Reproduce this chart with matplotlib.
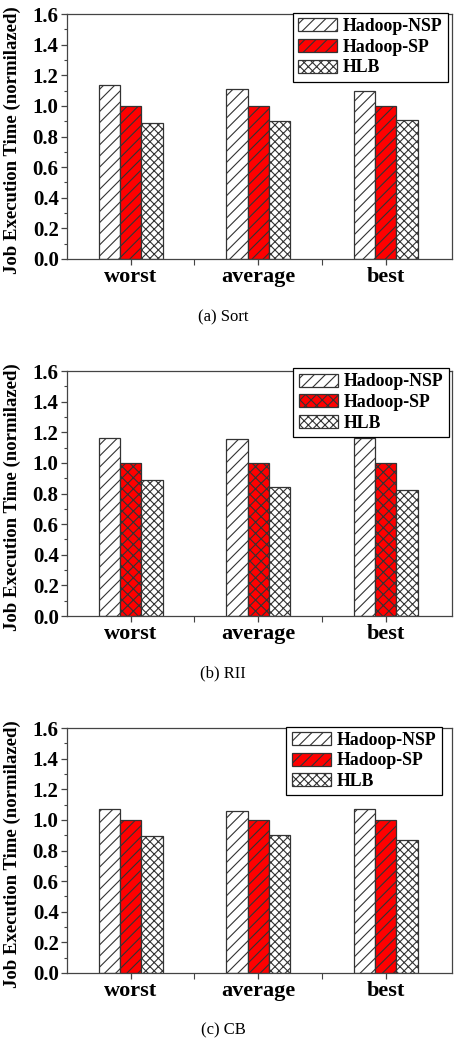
import numpy as np
import matplotlib
matplotlib.use("Agg")
import matplotlib.pyplot as plt
from matplotlib.ticker import MultipleLocator, FixedLocator

plt.rcParams["font.family"] = ["Liberation Serif", "DejaVu Serif"]
plt.rcParams["hatch.linewidth"] = 0.8

categories = ["worst", "average", "best"]
series = ["Hadoop-NSP", "Hadoop-SP", "HLB"]

sort_nsp = [1.135, 1.108, 1.095]
sort_sp = [1.0, 1.0, 1.0]
sort_hlb = [0.886, 0.899, 0.908]

rii_nsp = [1.161, 1.155, 1.160]
rii_sp = [1.0, 1.0, 1.0]
rii_hlb = [0.886, 0.841, 0.821]

cb_nsp = [1.074, 1.057, 1.070]
cb_sp = [1.0, 1.0, 1.0]
cb_hlb = [0.896, 0.904, 0.869]

captions = ["(a) Sort", "(b) RII", "(c) CB"]

panels = [
    (sort_nsp, sort_sp, sort_hlb, "///"),
    (rii_nsp, rii_sp, rii_hlb, "xxx"),
    (cb_nsp, cb_sp, cb_hlb, "///"),
]

W, H = 456, 1040
fig = plt.figure(figsize=(W / 100, H / 100), dpi=100)

# axes boxes in pixels: (left, top, right, bottom)
boxes = [(67, 14, 452, 259), (67, 371, 452, 616), (67, 728, 452, 973)]
legend_anchor = [(0.990, 1.005), (0.992, 1.012), (0.974, 1.006)]
caption_y = [317, 673, 1030]

x = np.arange(1, len(categories) + 1)
w = 0.167

for i, (nsp, sp, hlb, sp_hatch) in enumerate(panels):
    l, t, r, b = boxes[i]
    ax = fig.add_axes([l / W, 1 - b / H, (r - l) / W, (b - t) / H])
    ec = "#333333"
    ax.bar(x - w, nsp, w, color="white", edgecolor=ec, hatch="///",
           linewidth=0.9, label=series[0])
    ax.bar(x, sp, w, color="#ff0000", edgecolor=ec, hatch=sp_hatch,
           linewidth=0.9, label=series[1])
    ax.bar(x + w, hlb, w, color="white", edgecolor=ec, hatch="xxxx",
           linewidth=0.9, label=series[2])

    ax.set_xlim(0.5, 3.52)
    ax.set_ylim(0, 1.6)
    ax.set_xticks(x)
    ax.set_xticklabels(categories, fontsize=16, fontweight="bold")
    ax.xaxis.set_minor_locator(FixedLocator([1.5, 2.5]))
    ax.yaxis.set_minor_locator(MultipleLocator(0.1))
    ax.set_yticks(np.arange(0, 1.61, 0.2))
    ax.set_yticklabels([f"{v:.1f}" for v in np.arange(0, 1.61, 0.2)],
                       fontsize=15, fontweight="bold")
    ax.tick_params(axis="both", which="major", direction="out", length=4,
                   width=0.9, color="#444444", pad=2)
    ax.tick_params(axis="both", which="minor", direction="out", length=2.5,
                   width=0.8, color="#444444")
    ax.tick_params(axis="x", which="both", length=4)
    for s in ax.spines.values():
        s.set_color("#444444")
        s.set_linewidth(0.9)
    ax.set_ylabel("Job Execution Time (normilazed)", fontsize=13.5,
                  fontweight="bold")
    ax.yaxis.set_label_coords(-0.12, 0.485)

    leg = ax.legend(loc="upper right", bbox_to_anchor=legend_anchor[i],
                    fontsize=12.8, frameon=True, fancybox=False,
                    edgecolor="black", framealpha=1, borderaxespad=0,
                    handlelength=2.2, handleheight=0.75, labelspacing=0.2,
                    handletextpad=0.35, borderpad=0.3)
    leg.get_frame().set_linewidth(0.9)
    for txt in leg.get_texts():
        txt.set_fontweight("bold")

    fig.text(223 / W, 1 - caption_y[i] / H, captions[i], ha="center",
             va="center", fontsize=12)

fig.savefig("out.png", dpi=100)
